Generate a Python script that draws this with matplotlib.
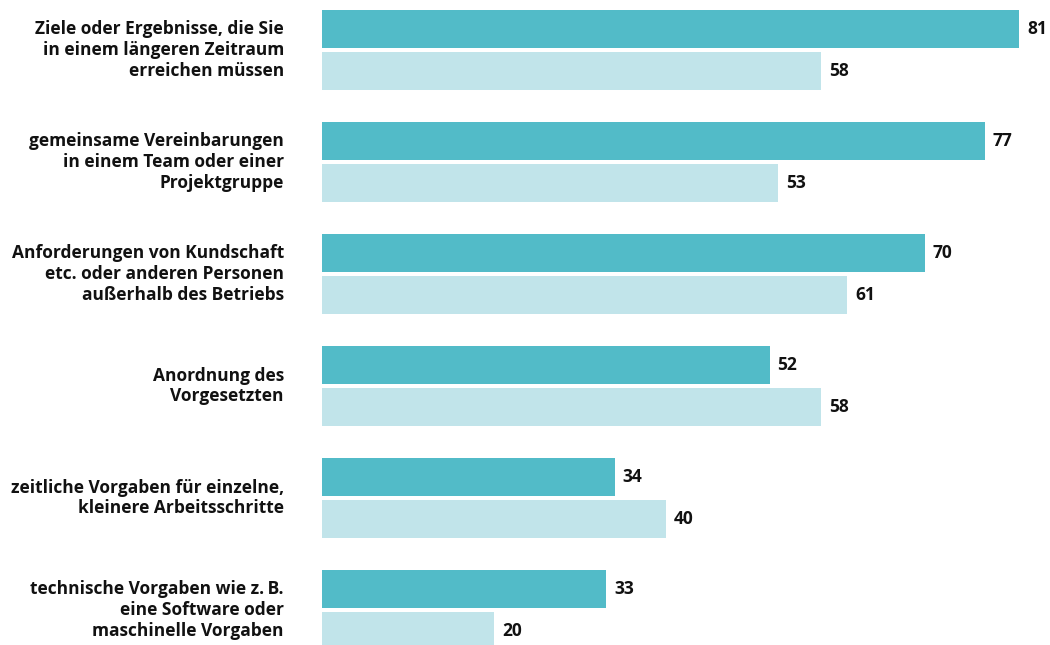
import matplotlib.pyplot as plt
import numpy as np

plt.rcParams['font.family'] = ['Open Sans', 'DejaVu Sans']

categories = [
    "Ziele oder Ergebnisse, die Sie\nin einem längeren Zeitraum\nerreichen müssen",
    "gemeinsame Vereinbarungen\nin einem Team oder einer\nProjektgruppe",
    "Anforderungen von Kundschaft\netc. oder anderen Personen\naußerhalb des Betriebs",
    "Anordnung des\nVorgesetzten",
    "zeitliche Vorgaben für einzelne,\nkleinere Arbeitsschritte",
    "technische Vorgaben wie z.\u2009B.\neine Software oder\nmaschinelle Vorgaben",
]
series_a = [81, 77, 70, 52, 34, 33]
series_b = [58, 53, 61, 58, 40, 20]

dark = '#52bbc8'
light = '#c1e4ea'

fig = plt.figure(figsize=(10.5, 6.45), dpi=100)
W, H = 1050, 645
x0 = 322
px_per_unit = 8.61
ax = fig.add_axes([x0 / W, 0, 1 - x0 / W, 1])

y = np.arange(len(categories))
bar_h = 38 / 112
off = 21 / 112

ax.barh(y - off, series_a, height=bar_h, color=dark)
ax.barh(y + off, series_b, height=bar_h, color=light)

for yi, a, b in zip(y, series_a, series_b):
    ax.text(a + 0.9, yi - off, str(a), va='center', ha='left',
            fontsize=12.5, fontweight='bold', color='#111111')
    ax.text(b + 0.9, yi + off, str(b), va='center', ha='left',
            fontsize=12.5, fontweight='bold', color='#111111')

for yi, lab in zip(y, categories):
    ax.text(-38 / px_per_unit, yi, lab, va='center', ha='right',
            fontsize=12.5, fontweight='bold', color='#111111',
            linespacing=1.2, clip_on=False)

ax.set_xlim(0, (W - x0) / px_per_unit)
ax.set_ylim((H - 50) / 112, -50 / 112)
ax.axis('off')

fig.savefig('out.png', dpi=100)
